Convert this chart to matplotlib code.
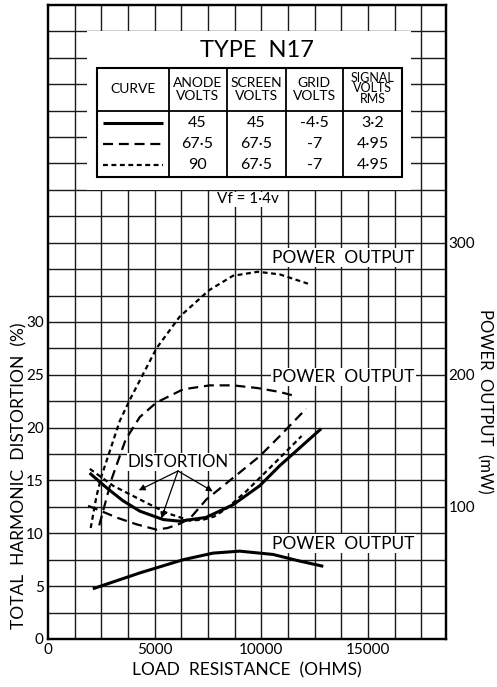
import matplotlib
matplotlib.use('Agg')
import matplotlib.pyplot as plt
from matplotlib.patches import Rectangle

plt.rcParams['font.family'] = ['Lato', 'DejaVu Sans']

# ── Data ─────────────────────────────────────────────────────
# distortion curves (% THD vs load ohms)
dist_45_x = [1950, 2750, 3500, 4300, 5400, 6170, 7400, 8670, 9920, 10860, 12800]
dist_45_y = [15.7, 14.3, 13.1, 12.1, 11.3, 11.15, 11.5, 12.7, 14.5, 16.4, 19.9]
dist_675_x = [1880, 2500, 3200, 4150, 5080, 5600, 6170, 6650, 7420, 8980, 9920, 10860, 12100]
dist_675_y = [12.6, 12.1, 11.5, 10.85, 10.35, 10.5, 10.9, 11.4, 13.2, 15.75, 17.3, 19.2, 21.8]
dist_90_x = [1960, 3050, 4600, 5600, 6650, 7300, 7800, 8400, 9300, 10500, 11880]
dist_90_y = [16.1, 14.5, 12.9, 11.9, 11.2, 11.3, 11.6, 12.4, 14.0, 16.4, 19.2]

# power output curves (mW vs load ohms)
pwr_45_x = [2100, 4300, 6330, 7730, 8980, 10540, 11790, 12900]
pwr_45_y = [38, 50, 60, 65, 66.5, 64, 59, 55]
pwr_675_x = [2400, 3000, 3640, 4300, 5080, 6330, 7580, 8670, 9800, 10860, 11560]
pwr_675_y = [86, 122, 151, 168, 179, 189, 192, 192, 190, 187, 184]
pwr_90_x = [2000, 2270, 2500, 2890, 3360, 3830, 5080, 6170, 7545, 8670, 9840, 10860, 12180]
pwr_90_y = [84, 108, 123, 142, 165, 181, 220, 244, 264, 275, 278, 276, 269]

# operating conditions table
anode_v = [45, 67.5, 90]
screen_v = [45, 67.5, 67.5]
grid_v = [-4.5, -7, -7]
signal_v = [3.2, 4.95, 4.95]

x_ticks = [0, 5000, 10000, 15000]
y_ticks = [0, 5, 10, 15, 20, 25, 30]
mw_ticks = [100, 200, 300]

# ── Styles ───────────────────────────────────────────────────
SOLID = dict(color='black', lw=2.2, linestyle='-', solid_capstyle='butt')
LONG = dict(color='black', lw=1.6, linestyle=(0, (4.5, 2.6)))
SHORT = dict(color='black', lw=1.6, linestyle=(0, (2.2, 1.6)))


def fmt(v):
    s = f'{v:g}'
    return s.replace('.', '·')


fig = plt.figure(figsize=(4.97, 6.87), dpi=100)
ax = fig.add_axes([0.0966, 0.0699, 0.8008, 0.9229])
ax2 = ax.twinx()

ax.set_xlim(0, 18650)
ax.set_ylim(0, 60)
ax2.set_ylim(0, 480)

# grid every 1250 ohms / 2.5 %, drawn by hand
grid_x = [i * 1250 for i in range(1, 15)]
grid_y = [i * 2.5 for i in range(1, 24)]
ax.vlines(grid_x, 0, 60, color='#1a1a1a', lw=1.0, zorder=0.5)
ax.hlines(grid_y, 0, 18650, color='#1a1a1a', lw=1.0, zorder=0.5)

ax.set_xticks(x_ticks)
ax.set_xticklabels([str(t) for t in x_ticks], fontsize=11)
ax.set_yticks(y_ticks)
ax.set_yticklabels([str(t) for t in y_ticks], fontsize=11)
ax.tick_params(length=0, pad=3)

ax2.set_yticks(mw_ticks)
ax2.set_yticklabels([str(t) for t in mw_ticks], fontsize=11)
ax2.tick_params(length=0, pad=2)

for a in (ax, ax2):
    for sp in a.spines.values():
        sp.set_linewidth(1.6)

ax.set_xlabel('LOAD  RESISTANCE  (OHMS)', fontsize=12.5, labelpad=4)
ax.set_ylabel('TOTAL  HARMONIC  DISTORTION  (%)', fontsize=12.5)
ax2.set_ylabel('POWER  OUTPUT  (mW)', fontsize=12, rotation=-90)
ax.yaxis.set_label_coords(-0.073, 0.257)
ax2.yaxis.set_label_coords(1.098, 0.375)
ax.yaxis.label.set_va('center')
ax2.yaxis.label.set_va('center')

# ── Curves ───────────────────────────────────────────────────
ax.plot(dist_45_x, dist_45_y, **SOLID)
ax.plot(dist_675_x, dist_675_y, **LONG)
ax.plot(dist_90_x, dist_90_y, **SHORT)
ax2.plot(pwr_45_x, pwr_45_y, **SOLID)
ax2.plot(pwr_675_x, pwr_675_y, **LONG)
ax2.plot(pwr_90_x, pwr_90_y, **SHORT)

# ── Labels on the chart ──────────────────────────────────────
box = dict(facecolor='white', edgecolor='none', pad=1.0)
for yy in (36.1, 24.8, 9.0):
    ax.text(13830, yy, 'POWER  OUTPUT', fontsize=12.5, ha='center', va='center',
            bbox=box, zorder=2)

ax.text(6090, 16.75, 'DISTORTION', fontsize=12.2, ha='center', va='center',
        bbox=dict(facecolor='white', edgecolor='none', pad=0.5), zorder=2)
for tx, ty in [(4250, 14.07), (5310, 11.4), (7720, 13.97)]:
    ax.annotate('', xy=(tx, ty), xytext=(6090, 15.9),
                arrowprops=dict(arrowstyle='-|>', lw=0.9, color='black',
                                mutation_scale=9, shrinkA=0, shrinkB=0),
                zorder=3)

# ── Title block with the operating-condition table ───────────
ax.add_patch(Rectangle((1850, 42.5), 17030 - 1850, 15.0, facecolor='white',
                       edgecolor='none', zorder=1))
ax.text(9780, 55.7, 'TYPE  N17', fontsize=17, ha='center', va='center', zorder=3)

t_left, t_right, t_bot, t_top, t_head = 2290, 16590, 43.7, 54.0, 50.0
col_x = [t_left, 5650, 8370, 11140, 13810, t_right]
ax.add_patch(Rectangle((t_left, t_bot), t_right - t_left, t_top - t_bot,
                       facecolor='white', edgecolor='black', lw=1.5, zorder=2))
ax.hlines(t_head, t_left, t_right, color='black', lw=1.3, zorder=3)
ax.vlines(col_x[1:-1], t_bot, t_top, color='black', lw=1.3, zorder=3)

centers = [(col_x[i] + col_x[i + 1]) / 2 for i in range(5)]
headers = ['CURVE', 'ANODE\nVOLTS', 'SCREEN\nVOLTS', 'GRID\nVOLTS']
for cx, h in zip(centers, headers):
    ax.text(cx, 52.0, h, fontsize=10, ha='center', va='center',
            linespacing=1.05, zorder=4)
ax.text(centers[4], 52.1, 'SIGNAL\nVOLTS\nRMS', fontsize=9, ha='center',
        va='center', linespacing=0.85, zorder=4)

row_y = [48.8, 46.8, 44.9]
for i, (ry, st) in enumerate(zip(row_y, [SOLID, LONG, SHORT])):
    ax.plot([2560, 5380], [ry, ry], zorder=4, **st)
    for cx, vals in zip(centers[1:], [anode_v, screen_v, grid_v, signal_v]):
        ax.text(cx, ry, fmt(vals[i]), fontsize=11.5, ha='center', va='center',
                zorder=4)

ax.text(9360, 41.6, 'Vf = 1·4v', fontsize=11, ha='center', va='center',
        bbox=dict(facecolor='white', edgecolor='none', pad=0.5), zorder=2)

fig.savefig('out.png', dpi=100)
